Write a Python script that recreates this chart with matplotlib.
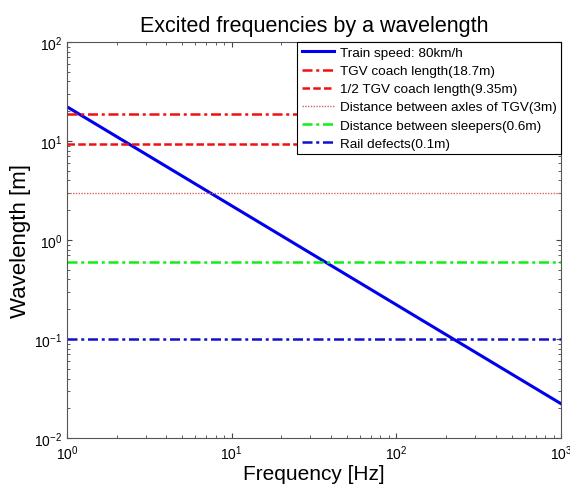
import matplotlib.pyplot as plt

plt.rcParams['font.family'] = ['Liberation Sans', 'DejaVu Sans']

# train speed line, read at the ends of the frequency axis
freq = [1, 1000]
train_wavelength = [22.2, 0.0222]

# constant wavelengths
labels = ['TGV coach length(18.7m)',
          '1/2 TGV coach length(9.35m)',
          'Distance between axles of TGV(3m)',
          'Distance between sleepers(0.6m)',
          'Rail defects(0.1m)']
lengths = [18.7, 9.35, 3, 0.6, 0.1]
colors = ['#ee1111', '#ee1111', '#cc6666', '#11ee11', '#1111cc']
styles = [(0, (4, 1.5, 1.2, 1.5)), (0, (3, 1.3)), (0, (1, 1)),
          (0, (4, 1.5, 1.2, 1.5)), (0, (4, 1.5, 1.2, 1.5))]
widths = [1.8, 1.8, 1.0, 1.8, 1.8]

fig = plt.figure(figsize=(5.7, 4.89), dpi=100)
ax = fig.add_axes([0.1175, 0.102, 0.867, 0.81])

ax.plot(freq, train_wavelength, color='#0000ee', linewidth=2.2,
        label='Train speed: 80km/h')
for lab, length, c, ls, lw in zip(labels, lengths, colors, styles, widths):
    ax.plot(freq, [length, length], color=c, linestyle=ls,
            linewidth=lw, label=lab)

ax.set_xscale('log')
ax.set_yscale('log')
ax.set_xlim(1, 1000)
ax.set_ylim(0.01, 100)
ax.tick_params(which='both', direction='in', top=True, right=True,
               labelsize=10, colors='#444444', labelcolor='black')
for s in ax.spines.values():
    s.set_color('#555555')

ax.set_title('Excited frequencies by a wavelength', fontsize=15.5, pad=8)
ax.set_xlabel('Frequency [Hz]', fontsize=15, labelpad=2)
ax.set_ylabel('Wavelength [m]', fontsize=16, labelpad=2)

leg = ax.legend(loc='upper right', fontsize=9.7, fancybox=False,
                framealpha=1, edgecolor='black', borderaxespad=0,
                handlelength=2.4, labelspacing=0.42, handletextpad=0.4,
                borderpad=0.35)
leg.get_frame().set_linewidth(0.8)

fig.savefig('out.png')
